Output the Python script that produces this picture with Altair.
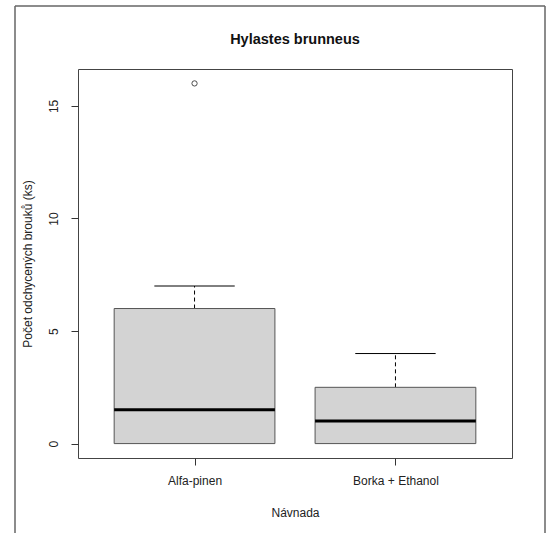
import altair as alt
import pandas as pd

# data
title_text = "Hylastes brunneus"
groups = ["Alfa-pinen", "Borka + Ethanol"]
positions = [1, 2]
lower = [0, 0]
q1 = [0, 0]
median = [1.5, 1]
q3 = [6, 2.5]
upper = [7, 4]
outlier_pos = [1]
outlier_val = [16]

y_ticks = [0, 5, 10, 15]

df = pd.DataFrame({"pos": positions, "name": groups, "lower": lower, "q1": q1,
                   "median": median, "q3": q3, "upper": upper})
out_df = pd.DataFrame({"pos": outlier_pos, "value": outlier_val})
frame_df = pd.DataFrame({"t": [title_text]})

FONT = "Liberation Sans"

xscale = alt.Scale(domain=[0.42, 2.58], nice=False, zero=False)
yscale = alt.Scale(domain=[-0.64, 16.64], nice=False, zero=False)

label_expr = "datum.value == 1 ? 'Alfa-pinen' : (datum.value == 2 ? 'Borka + Ethanol' : '')"

x_axis = alt.Axis(values=[1, 2], labelExpr=label_expr, title="Návnada", grid=False,
                  domain=False, tickSize=7, tickColor="#333", labelPadding=10,
                  labelFontSize=12, titleFontSize=12, titleFontWeight="normal",
                  titlePadding=21, labelColor="#222", titleColor="#222")
y_axis = alt.Axis(values=y_ticks, title="Počet odchycených brouků (ks)", grid=False,
                  domain=False, tickSize=7, tickColor="#333", labelAngle=270,
                  labelAlign="center", labelBaseline="bottom", labelPadding=11,
                  labelFontSize=12, titleFontSize=12, titleFontWeight="normal",
                  titlePadding=13, labelColor="#222", titleColor="#222")

base = alt.Chart(df).transform_calculate(
    bl="datum.pos - 0.4", br="datum.pos + 0.4",
    cl="datum.pos - 0.2", cr="datum.pos + 0.2")

whisker = base.mark_rule(color="black", strokeDash=[4, 3], strokeWidth=1).encode(
    x=alt.X("pos:Q", scale=xscale, axis=x_axis),
    y=alt.Y("q3:Q", scale=yscale, axis=y_axis),
    y2="upper:Q")

caps = base.mark_rule(color="black", strokeWidth=1).encode(
    x=alt.X("cl:Q", scale=xscale), x2="cr:Q", y=alt.Y("upper:Q", scale=yscale))

box = base.mark_rect(fill="#d3d3d3", stroke="#555", strokeWidth=1).encode(
    x=alt.X("bl:Q", scale=xscale), x2="br:Q",
    y=alt.Y("q1:Q", scale=yscale), y2="q3:Q")

med = base.mark_rule(color="black", strokeWidth=3).encode(
    x=alt.X("bl:Q", scale=xscale), x2="br:Q", y=alt.Y("median:Q", scale=yscale))

outl = alt.Chart(out_df).mark_point(shape="circle", filled=False, color="black",
                                    size=28, strokeWidth=1).encode(
    x=alt.X("pos:Q", scale=xscale), y=alt.Y("value:Q", scale=yscale))

frame_left = alt.Chart(frame_df).mark_rule(color="#666", strokeWidth=1.5).encode(
    x=alt.value(-63), y=alt.value(-63), y2=alt.value(480))
frame_top = alt.Chart(frame_df).mark_rule(color="#666", strokeWidth=1.5).encode(
    x=alt.value(-63), x2=alt.value(467), y=alt.value(-63))
frame_right = alt.Chart(frame_df).mark_rule(color="#666", strokeWidth=1.5).encode(
    x=alt.value(467), y=alt.value(-63), y2=alt.value(480))

title_mark = alt.Chart(frame_df).mark_text(
    fontSize=14.5, fontWeight="bold", font=FONT, color="#111",
    align="center", baseline="middle").encode(
    x=alt.value(217), y=alt.value(-29), text="t:N")

chart = alt.layer(whisker, caps, box, med, outl, frame_left, frame_top, frame_right,
                  title_mark).properties(
    width=434, height=389,
    autosize=alt.AutoSizeParams(type="none"),
    padding={"left": 78, "top": 69, "right": 38, "bottom": 75},
).configure(font=FONT).configure_view(stroke="#444", strokeWidth=1)

chart.save("out.html", embed_options={"renderer": "svg", "actions": False})
